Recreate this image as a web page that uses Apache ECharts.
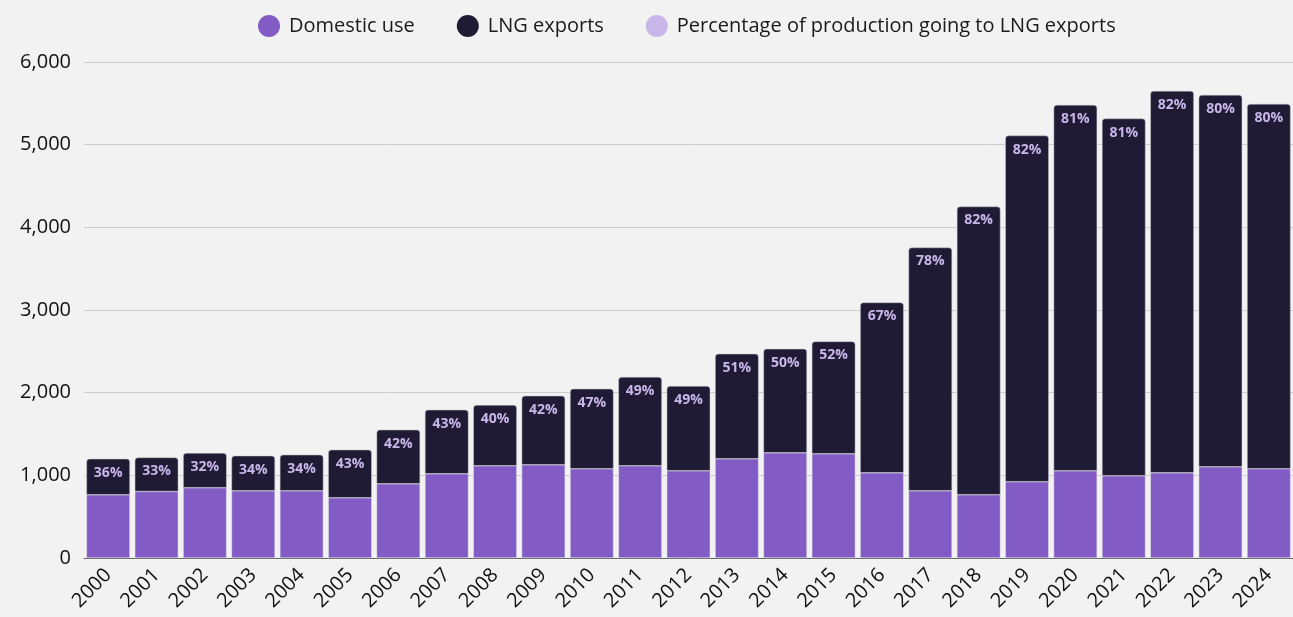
<!DOCTYPE html>
<html>
<head>
<meta charset="utf-8">
<script src="https://cdn.jsdelivr.net/npm/echarts@6/dist/echarts.min.js"></script>
<style>
html,body{margin:0;padding:0;background:#f2f2f2;}
#c{width:1293px;height:617px;}
</style>
</head>
<body>
<div id="c"></div>
<script>
const years = ['2000','2001','2002','2003','2004','2005','2006','2007','2008','2009','2010','2011','2012','2013','2014','2015','2016','2017','2018','2019','2020','2021','2022','2023','2024'];
const domesticUse = [765,805,850,814,814,729,898,1019,1116,1128,1080,1116,1056,1201,1273,1261,1031,814,766,923,1056,995,1031,1104,1080];
const lngExports = [435,411,420,423,435,581,654,774,734,834,967,1074,1024,1269,1257,1359,2060,2942,3486,4187,4425,4321,4619,4498,4413];
const pctLng = [36,33,32,34,34,43,42,43,40,42,47,49,49,51,50,52,67,78,82,82,81,81,82,80,80];
const yTicks = [0,1000,2000,3000,4000,5000,6000];

const FONT = '"Open Sans", Lato, sans-serif';
const chart = echarts.init(document.getElementById('c'));
chart.setOption({
  backgroundColor: '#f2f2f2',
  animation: false,
  textStyle: {fontFamily: FONT},
  legend: {
    top: 10, left: 253,
    itemWidth: 22, itemHeight: 22, itemGap: 42, icon: 'circle',
    itemStyle: {borderWidth: 0},
    textStyle: {fontSize: 20, color: '#1a1a1a', fontFamily: FONT, padding: [0,0,0,4]},
    data: ['Domestic use','LNG exports','Percentage of production going to LNG exports']
  },
  grid: {left: 84, right: 0, top: 62, bottom: 59},
  xAxis: {
    type: 'category', data: years,
    axisTick: {show: false},
    axisLine: {lineStyle: {color: '#666', width: 1}},
    axisLabel: {rotate: 45, fontSize: 20, color: '#111', margin: 14, fontFamily: FONT}
  },
  yAxis: {
    type: 'value', min: yTicks[0], max: yTicks[yTicks.length-1], interval: 1000,
    axisLine: {show: false}, axisTick: {show: false},
    splitLine: {lineStyle: {color: '#cccccc', width: 1}},
    axisLabel: {fontSize: 20, color: '#111', margin: 13, fontFamily: FONT,
      formatter: v => v.toLocaleString('en-US')}
  },
  series: [
    {
      name: 'Domestic use', type: 'bar', stack: 'total', data: domesticUse,
      barCategoryGap: '10%',
      itemStyle: {color: '#825cc4', borderColor: '#e8e8ec', borderWidth: 0.5}
    },
    {
      name: 'LNG exports', type: 'bar', stack: 'total', data: lngExports,
      itemStyle: {color: '#1f1b34', borderRadius: [3,3,0,0], borderColor: '#c8c8cc', borderWidth: 0.5},
      label: {
        show: true, position: 'insideTop', distance: 7,
        color: '#c9b6ea', fontSize: 14, fontWeight: 'bold', fontFamily: FONT,
        formatter: p => pctLng[p.dataIndex] + '%'
      }
    },
    {
      name: 'Percentage of production going to LNG exports', type: 'line',
      data: pctLng.map(() => '-'),
      itemStyle: {color: '#c9b6ea', borderWidth: 0}, lineStyle: {width: 0}, showSymbol: false
    }
  ]
});
</script>
</body>
</html>
